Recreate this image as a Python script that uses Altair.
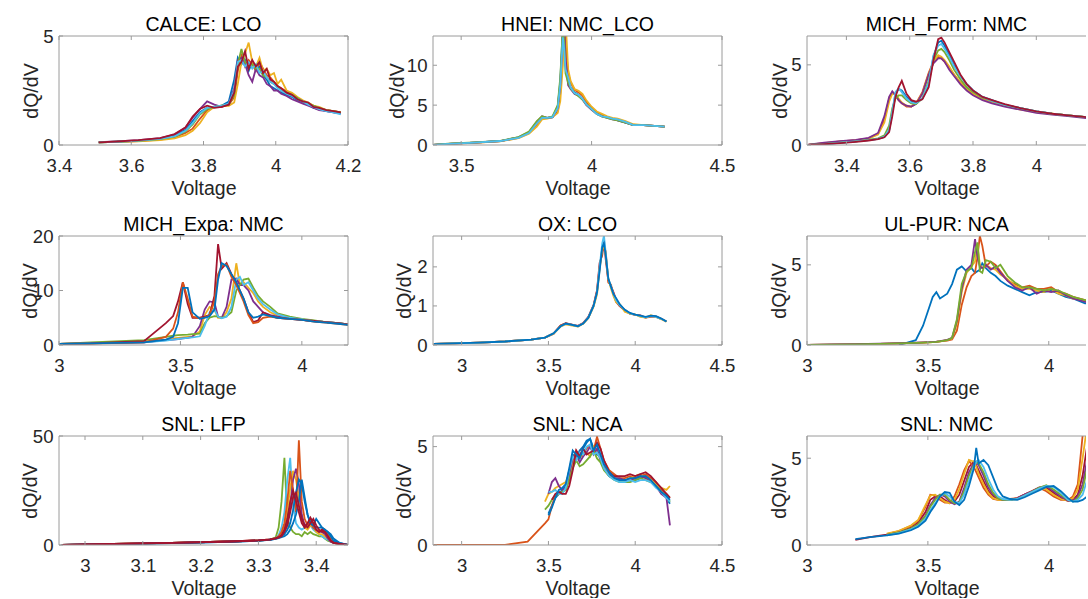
import altair as alt
import pandas as pd

BLUE = "#0072BD"; ORANGE = "#D95319"; YELLOW = "#EDB120"; PURPLE = "#7E2F8E"
GREEN = "#77AC30"; LIGHTBLUE = "#4DBEEE"; RED = "#A2142F"
FONT = "Liberation Sans"
FRAME = "#9a9a9a"
TXT = "#262626"
N = None

# ---------------- CALCE: LCO ----------------
CALCE_V = [3.51, 3.56, 3.62, 3.68, 3.72, 3.75, 3.77, 3.79, 3.81, 3.83, 3.85, 3.87, 3.885, 3.895, 3.905,
           3.915, 3.925, 3.935, 3.945, 3.955, 3.965, 3.975, 3.985, 3.995, 4.005, 4.015, 4.03, 4.045, 4.06,
           4.075, 4.09, 4.105, 4.12, 4.14, 4.16, 4.18]
CALCE_Q = [
    [0.12, 0.15, 0.2, 0.28, 0.42, 0.7, 1.1, 1.5, 1.7, 1.75, 1.8, 2.0, 3.0, 4.0, 3.7, 3.9, 3.4, 3.8, 3.5, 3.6,
     3.2, 3.0, 2.7, 2.6, 2.5, 2.4, 2.3, 2.2, 2.05, 1.95, 1.85, 1.7, 1.65, 1.55, 1.5, 1.45],
    [0.12, 0.14, 0.18, 0.25, 0.35, 0.55, 0.75, 1.2, 1.6, 1.75, 1.75, 1.85, 2.2, 3.4, 4.1, 3.6, 3.9, 3.7, 3.4, 3.8,
     3.5, 3.2, 3.1, 2.9, 2.7, 2.6, 2.45, 2.3, 2.15, 2.0, 1.9, 1.8, 1.7, 1.6, 1.55, 1.5],
    [0.12, 0.14, 0.17, 0.22, 0.3, 0.45, 0.65, 1.0, 1.5, 1.75, 1.8, 1.8, 1.95, 2.8, 3.8, 4.2, 4.7, 3.8, 3.6, 4.0,
     3.4, 3.5, 3.2, 3.3, 2.8, 3.0, 2.5, 2.4, 2.2, 2.05, 1.95, 1.8, 1.75, 1.6, 1.55, 1.5],
    [0.13, 0.16, 0.22, 0.32, 0.48, 0.8, 1.25, 1.65, 2.0, 1.85, 1.75, 1.9, 2.6, 3.9, 4.0, 3.7, 3.2, 2.9, 3.5, 3.2,
     3.1, 2.8, 2.7, 2.5, 2.5, 2.35, 2.25, 2.1, 2.0, 1.9, 1.8, 1.7, 1.6, 1.55, 1.5, 1.45],
    [0.12, 0.15, 0.19, 0.27, 0.38, 0.62, 0.95, 1.4, 1.65, 1.75, 1.8, 1.85, 2.3, 3.7, 4.4, 3.8, 3.6, 3.7, 3.5, 3.5,
     3.2, 3.1, 2.9, 2.8, 2.7, 2.5, 2.4, 2.3, 2.15, 2.0, 1.9, 1.8, 1.7, 1.6, 1.55, 1.5],
    [0.12, 0.15, 0.2, 0.28, 0.4, 0.65, 1.0, 1.45, 1.7, 1.75, 1.8, 1.9, 2.5, 3.8, 3.9, 3.6, 3.8, 3.5, 3.7, 3.3,
     3.4, 3.1, 2.9, 2.8, 2.6, 2.5, 2.35, 2.25, 2.1, 2.0, 1.85, 1.75, 1.65, 1.55, 1.5, 1.4],
    [0.12, 0.16, 0.22, 0.32, 0.5, 0.8, 1.3, 1.65, 1.8, 1.7, 1.75, 1.85, 2.4, 3.6, 3.8, 4.3, 3.5, 3.9, 3.6, 3.8,
     3.3, 3.5, 3.0, 2.9, 2.7, 2.6, 2.4, 2.3, 2.1, 2.0, 1.95, 1.75, 1.7, 1.6, 1.55, 1.5],
]
CALCE_C = [BLUE, ORANGE, YELLOW, PURPLE, GREEN, LIGHTBLUE, RED]

# ---------------- HNEI: NMC_LCO ----------------
HNEI_V = [3.39, 3.45, 3.55, 3.65, 3.72, 3.76, 3.79, 3.81, 3.83, 3.85, 3.87, 3.88, 3.89, 3.895, 3.90,
          3.91, 3.92, 3.935, 3.95, 3.965, 3.98, 4.0, 4.02, 4.04, 4.06, 4.08, 4.10, 4.13, 4.16, 4.2, 4.24, 4.28]
HNEI_Q = [
    [0.0, 0.15, 0.3, 0.5, 0.95, 1.6, 2.8, 3.5, 3.4, 3.45, 4.8, 8.0, 15, 14, 10, 8.0, 7.2, 6.6, 6.3, 5.8,
     5.2, 4.5, 4.0, 3.6, 3.5, 3.3, 3.1, 2.8, 2.5, 2.5, 2.4, 2.3],
    [0.0, 0.14, 0.28, 0.48, 0.9, 1.5, 2.5, 3.4, 3.4, 3.5, 4.2, 6.5, 12, 16, 13, 9.0, 7.8, 6.9, 6.6, 6.2,
     5.4, 4.7, 4.1, 3.8, 3.5, 3.3, 3.2, 2.9, 2.5, 2.5, 2.4, 2.3],
    [0.0, 0.13, 0.27, 0.46, 0.85, 1.4, 2.3, 3.2, 3.3, 3.5, 4.0, 5.5, 10, 15, 16, 9.5, 8.0, 7.0, 6.8, 6.4,
     5.6, 4.8, 4.2, 3.9, 3.6, 3.4, 3.3, 3.0, 2.6, 2.5, 2.4, 2.3],
    [0.0, 0.15, 0.3, 0.5, 0.95, 1.6, 2.9, 3.6, 3.4, 3.5, 4.6, 7.5, 14, 15, 11, 7.5, 7.0, 6.4, 6.2, 5.7,
     5.0, 4.4, 3.9, 3.6, 3.4, 3.2, 3.1, 2.8, 2.5, 2.5, 2.4, 2.3],
    [0.0, 0.16, 0.32, 0.52, 1.0, 1.7, 3.0, 3.6, 3.4, 3.6, 5.0, 8.5, 15, 13, 9, 7.8, 7.1, 6.5, 6.1, 5.7,
     5.1, 4.5, 3.9, 3.6, 3.4, 3.2, 3.1, 2.8, 2.5, 2.5, 2.4, 2.3],
    [0.0, 0.15, 0.3, 0.5, 0.9, 1.5, 2.7, 3.4, 3.4, 3.5, 4.6, 7.5, 13.5, 12, 9.5, 8.5, 7.2, 6.5, 6.3, 5.8,
     5.1, 4.5, 3.9, 3.6, 3.5, 3.3, 3.2, 2.9, 2.5, 2.5, 2.4, 2.3],
]
HNEI_C = [BLUE, ORANGE, YELLOW, PURPLE, GREEN, LIGHTBLUE]

# ---------------- MICH_Form: NMC ----------------
MFORM_V = [3.28, 3.33, 3.38, 3.43, 3.47, 3.50, 3.52, 3.535, 3.545, 3.555, 3.565, 3.575, 3.59, 3.605, 3.62,
           3.64, 3.66, 3.675, 3.69, 3.70, 3.71, 3.725, 3.74, 3.76, 3.78, 3.80, 3.83, 3.86, 3.90, 3.95,
           4.0, 4.05, 4.1, 4.15, 4.2]
MFORM_Q = [
    [0.0, 0.06, 0.14, 0.22, 0.3, 0.38, 0.5, 0.9, 2.0, 3.2, 3.5, 3.4, 3.0, 2.7, 2.6, 2.9, 3.8, 5.5, 6.4, 6.5,
     6.2, 5.6, 5.0, 4.3, 3.8, 3.4, 3.0, 2.8, 2.5, 2.3, 2.1, 1.95, 1.85, 1.75, 1.65],
    [0.02, 0.12, 0.22, 0.3, 0.42, 0.7, 1.6, 2.9, 3.3, 3.1, 2.8, 2.6, 2.4, 2.4, 2.6, 3.3, 4.5, 5.2, 5.5, 5.4,
     5.2, 4.8, 4.4, 3.9, 3.5, 3.2, 2.9, 2.7, 2.5, 2.25, 2.05, 1.95, 1.85, 1.75, 1.65],
    [0.0, 0.1, 0.2, 0.28, 0.4, 0.65, 1.4, 2.7, 3.2, 3.2, 2.9, 2.65, 2.45, 2.4, 2.6, 3.2, 4.4, 5.2, 5.6, 5.5,
     5.3, 4.9, 4.4, 3.9, 3.5, 3.2, 2.9, 2.7, 2.45, 2.2, 2.05, 1.95, 1.85, 1.75, 1.65],
    [0.02, 0.14, 0.24, 0.32, 0.45, 0.75, 1.8, 3.0, 3.35, 3.1, 2.8, 2.6, 2.45, 2.4, 2.55, 3.2, 4.4, 5.1, 5.4, 5.4,
     5.2, 4.7, 4.3, 3.8, 3.4, 3.1, 2.8, 2.6, 2.4, 2.2, 2.0, 1.9, 1.8, 1.7, 1.6],
    [0.0, 0.07, 0.15, 0.23, 0.32, 0.42, 0.6, 1.2, 2.3, 2.9, 3.1, 3.1, 2.8, 2.6, 2.55, 2.9, 4.0, 5.3, 5.9, 6.0,
     5.8, 5.3, 4.7, 4.1, 3.6, 3.3, 2.95, 2.75, 2.5, 2.3, 2.1, 1.95, 1.85, 1.75, 1.65],
    [0.0, 0.06, 0.14, 0.22, 0.3, 0.38, 0.52, 0.95, 2.1, 3.3, 3.55, 3.3, 2.9, 2.65, 2.6, 2.9, 3.9, 5.6, 6.2, 6.3,
     6.0, 5.5, 4.9, 4.3, 3.8, 3.4, 3.0, 2.75, 2.5, 2.3, 2.1, 1.95, 1.85, 1.75, 1.65],
    [0.0, 0.05, 0.12, 0.2, 0.28, 0.36, 0.48, 0.8, 1.8, 3.0, 3.6, 4.0, 3.2, 2.8, 2.7, 2.85, 3.6, 5.3, 6.6, 6.7,
     6.4, 5.8, 5.2, 4.4, 3.8, 3.4, 3.0, 2.8, 2.55, 2.3, 2.1, 1.95, 1.85, 1.75, 1.65],
]
MFORM_C = [BLUE, ORANGE, YELLOW, PURPLE, GREEN, LIGHTBLUE, RED]

# ---------------- MICH_Expa: NMC ----------------
MEXPA_V = [3.0, 3.13, 3.35, 3.44, 3.47, 3.49, 3.51, 3.53, 3.55, 3.58, 3.60, 3.62, 3.64, 3.655, 3.67,
           3.69, 3.71, 3.73, 3.745, 3.76, 3.78, 3.80, 3.82, 3.84, 3.87, 3.90, 3.95, 4.0, 4.05, 4.1, 4.15, 4.19]
MEXPA_Q = [
    [0.2, 0.3, 0.6, 1.0, 1.2, 1.3, 1.4, 1.5, 1.6, 2.5, 5.5, 7.0, 6.5, 5.0, 5.0, 6.0, 8.5, 15.0, 11.0, 11.5,
     10.5, 9.5, 8.0, 7.0, 6.0, 5.4, 5.0, 4.7, 4.4, 4.2, 4.0, 3.8],
    [0.2, 0.3, 0.5, 0.9, 1.0, 1.1, 1.2, 1.3, 1.5, 3.5, 6.5, 8.0, 7.8, 5.2, 5.0, 7.0, 12.0, 12.2, 11.0, 11.0,
     10.0, 8.0, 7.0, 6.0, 5.5, 5.2, 4.9, 4.6, 4.4, 4.2, 4.0, 3.8],
    [0.2, 0.5, 0.9, 1.5, 1.7, 1.8, 1.85, 1.9, 2.0, 2.1, 4.0, 5.0, 5.3, 5.2, 5.0, 5.3, 6.0, 10.0, 11.0, 12.0,
     12.2, 10.5, 9.0, 8.0, 7.0, 5.8, 5.2, 4.8, 4.5, 4.2, 4.0, 3.8],
    [0.2, 0.3, 0.5, 0.8, 1.0, 1.1, 1.2, 1.3, 1.4, 1.6, 3.5, 6.0, 6.5, 5.2, 4.9, 5.2, 7.0, 12.0, 12.5, 11.0,
     11.5, 10.0, 8.5, 7.5, 6.5, 5.6, 5.0, 4.7, 4.4, 4.2, 4.0, 3.8],
    [0.2, 0.3, 0.7, 4.0, 5.3, 8.0, 11.5, 7.5, 5.0, 5.0, 5.2, 5.5, 9.0, 18.5, 14.0, 15.0, 13.0, 11.5, 10.0, 8.5,
     6.0, 4.2, 4.5, 6.0, 5.4, 5.0, 4.8, 4.6, 4.4, 4.2, 4.0, 3.8],
    [0.2, 0.25, 0.5, 1.5, 3.0, 6.0, 11.5, 8.5, 5.2, 4.9, 5.0, 5.5, 8.0, 13.0, 14.5, 14.8, 12.5, 11.0, 9.5, 8.0,
     5.5, 4.0, 4.2, 5.0, 5.2, 5.0, 4.8, 4.6, 4.3, 4.1, 3.9, 3.7],
    [0.2, 0.3, 0.5, 1.0, 1.5, 4.0, 10.5, 10.5, 6.0, 4.8, 5.0, 5.3, 6.5, 12.0, 15.0, 14.5, 13.0, 11.5, 10.0, 8.5,
     6.0, 5.0, 5.2, 5.6, 5.3, 5.0, 4.8, 4.6, 4.3, 4.1, 3.9, 3.7],
]
MEXPA_C = [YELLOW, PURPLE, GREEN, LIGHTBLUE, RED, ORANGE, BLUE]

# ---------------- OX: LCO ----------------
OX_V = [2.84, 2.95, 3.1, 3.25, 3.4, 3.48, 3.53, 3.57, 3.6, 3.63, 3.67, 3.7, 3.73, 3.76, 3.78, 3.795, 3.81,
        3.82, 3.83, 3.845, 3.86, 3.875, 3.89, 3.91, 3.94, 3.97, 4.0, 4.03, 4.06, 4.09, 4.12, 4.15, 4.18]
OX_Q = [
    [0.03, 0.04, 0.06, 0.09, 0.14, 0.19, 0.29, 0.5, 0.56, 0.53, 0.49, 0.56, 0.72, 1.02, 1.4, 2.1, 2.3, 2.7,
     2.2, 1.65, 1.5, 1.35, 1.15, 1.0, 0.88, 0.8, 0.77, 0.76, 0.7, 0.74, 0.72, 0.67, 0.6],
    [0.03, 0.04, 0.06, 0.09, 0.14, 0.19, 0.3, 0.5, 0.55, 0.52, 0.48, 0.55, 0.7, 1.0, 1.38, 2.0, 2.4, 2.5,
     2.4, 1.6, 1.55, 1.3, 1.1, 1.0, 0.9, 0.8, 0.78, 0.74, 0.7, 0.72, 0.73, 0.67, 0.6],
    [0.03, 0.04, 0.06, 0.09, 0.14, 0.19, 0.29, 0.47, 0.53, 0.5, 0.47, 0.54, 0.69, 0.98, 1.3, 1.95, 2.45, 2.55,
     2.3, 1.7, 1.45, 1.25, 1.1, 1.05, 0.85, 0.8, 0.78, 0.72, 0.7, 0.76, 0.72, 0.66, 0.6],
    [0.03, 0.04, 0.06, 0.09, 0.14, 0.19, 0.3, 0.48, 0.54, 0.52, 0.48, 0.55, 0.7, 1.0, 1.35, 2.0, 2.6, 2.8,
     2.35, 1.7, 1.5, 1.3, 1.15, 1.02, 0.9, 0.81, 0.78, 0.74, 0.71, 0.74, 0.72, 0.67, 0.6],
    [0.03, 0.04, 0.06, 0.09, 0.14, 0.19, 0.3, 0.48, 0.55, 0.52, 0.48, 0.55, 0.7, 1.0, 1.35, 1.9, 2.5, 2.6,
     2.3, 1.7, 1.5, 1.3, 1.2, 1.05, 0.9, 0.82, 0.78, 0.75, 0.72, 0.75, 0.74, 0.68, 0.6],
]
OX_C = [RED, ORANGE, YELLOW, LIGHTBLUE, BLUE]

# ---------------- UL-PUR: NCA ----------------
ULPUR_V = [3.0, 3.1, 3.2, 3.3, 3.38, 3.45, 3.48, 3.52, 3.535, 3.55, 3.58, 3.60, 3.62, 3.64, 3.66, 3.68,
           3.695, 3.705, 3.715, 3.725, 3.74, 3.76, 3.78, 3.80, 3.83, 3.86, 3.89, 3.92, 3.95, 3.98, 4.01,
           4.04, 4.07, 4.1, 4.15, 4.2]
ULPUR_Q = [
    [N, N, N, N, 0.0, 0.3, 1.2, 3.0, 3.3, 2.9, 3.2, 3.8, 4.7, 4.9, 4.6, 4.8, 4.5, 4.6, 4.7, 5.1,
     4.8, 4.5, 4.3, 4.0, 3.7, 3.5, 3.3, 3.1, 3.3, 3.3, 3.4, 3.2, 3.0, 2.9, 2.6, 2.5],
    [0.0, 0.02, 0.04, 0.07, 0.1, 0.13, 0.15, 0.18, 0.2, 0.22, 0.28, 0.35, 0.9, 2.5, 3.6, 4.3, 4.5, 5.5, 6.8, 6.2,
     4.9, 5.2, 5.0, 4.6, 4.0, 3.8, 3.6, 3.7, 3.5, 3.5, 3.6, 3.3, 3.2, 3.0, 2.8, 2.6],
    [0.0, 0.02, 0.04, 0.07, 0.1, 0.13, 0.15, 0.18, 0.2, 0.23, 0.3, 0.4, 1.3, 3.3, 4.5, 4.9, 5.2, 6.3, 5.0, 4.8,
     5.0, 4.8, 4.7, 4.4, 4.1, 3.7, 3.5, 3.5, 3.4, 3.3, 3.5, 3.2, 3.1, 2.9, 2.8, 2.6],
    [0.0, 0.03, 0.05, 0.08, 0.11, 0.14, 0.16, 0.19, 0.21, 0.24, 0.32, 0.45, 1.5, 3.5, 4.7, 5.0, 6.6, 5.5, 4.9, 4.8,
     5.0, 4.7, 4.9, 4.5, 4.0, 3.6, 3.4, 3.6, 3.2, 3.4, 3.3, 3.4, 3.1, 2.9, 2.7, 2.5],
    [0.0, 0.02, 0.04, 0.07, 0.1, 0.13, 0.15, 0.18, 0.2, 0.23, 0.3, 0.45, 1.6, 3.8, 4.6, 4.8, 5.8, 6.4, 4.6, 4.5,
     5.3, 5.2, 4.8, 5.0, 4.3, 3.9, 3.6, 3.6, 3.5, 3.4, 3.5, 3.4, 3.2, 3.0, 2.8, 2.6],
]
ULPUR_C = [BLUE, ORANGE, YELLOW, PURPLE, GREEN]

# ---------------- SNL: LFP ----------------
LFP_V = [2.96, 3.05, 3.15, 3.25, 3.30, 3.32, 3.33, 3.335, 3.34, 3.345, 3.35, 3.355, 3.36, 3.365, 3.37,
         3.375, 3.38, 3.385, 3.39, 3.395, 3.40, 3.405, 3.41, 3.415, 3.42, 3.425, 3.43, 3.44, 3.455]
LFP_Q = [
    [0.1, 0.5, 1.0, 1.6, 2.0, 2.5, 3.5, 8, 20, 40, 12, 8, 6, 5, 5, 4, 6, 5, 6, 5, 4.5, 4, 4, 3, 2, 1.5, 1, 0.5, 0],
    [0.1, 0.5, 1.0, 1.6, 2.0, 2.5, 3.2, 4.5, 8, 15, 30, 40, 18, 10, 8, 7, 8, 10, 9, 7, 6, 5, 4, 3, 2.5, 2, 1, 0.5, 0],
    [0.1, 0.5, 1.0, 1.6, 2.0, 2.5, 3.0, 3.6, 5, 9, 16, 26, 34, 30, 22, 12, 8, 7, 9, 8, 6, 5, 5, 4, 3, 2, 1, 0.5, 0],
    [0.1, 0.5, 1.0, 1.6, 2.0, 2.5, 3.0, 3.5, 4, 6, 10, 18, 30, 35, 28, 14, 9, 10, 11, 8, 7, 6, 6, 5, 3, 1.5, 1, 0.5, 0],
    [0.1, 0.5, 1.0, 1.6, 2.1, 2.6, 3.2, 4, 6, 10, 20, 34, 25, 15, 48, 20, 12, 9, 12, 8, 7, 6, 7, 7, 5, 3, 1.5, 0.5, 0],
    [0.1, 0.4, 0.9, 1.5, 2.0, 2.4, 2.8, 3.2, 3.6, 4, 5, 7, 10, 14, 20, 30, 22, 14, 10, 9, 8, 8, 8, 7, 6, 4, 2, 1, 0],
    [0.1, 0.4, 0.9, 1.5, 2.0, 2.4, 2.9, 3.4, 4, 5, 7, 10, 16, 24, 30, 28, 20, 14, 10, 9, 12, 10, 8, 7, 6, 5, 3, 1, 0],
    [0.1, 0.5, 1.0, 1.6, 2.1, 2.6, 3.0, 3.5, 4.5, 7, 12, 20, 25, 20, 15, 10, 8, 10, 12.5, 10, 7, 6, 7, 6, 4, 2, 1, 0.5, 0],
    [0.1, 0.5, 1.0, 1.6, 2.1, 2.5, 3.0, 3.5, 4, 6, 9, 15, 22, 24, 18, 12, 9, 8, 10, 12, 9, 7, 6, 6, 4, 2, 1, 0.5, 0],
]
LFP_C = [GREEN, LIGHTBLUE, YELLOW, PURPLE, ORANGE, BLUE, BLUE, RED, RED]

# ---------------- SNL: NCA ----------------
NCA_V = [2.84, 3.0, 3.25, 3.38, 3.48, 3.5, 3.52, 3.54, 3.56, 3.58, 3.6, 3.62, 3.64, 3.66, 3.68, 3.70, 3.72,
         3.74, 3.76, 3.78, 3.80, 3.82, 3.85, 3.88, 3.91, 3.94, 3.97, 4.0, 4.03, 4.06, 4.09, 4.12, 4.15, 4.18, 4.2]
NCA_Q = [
    [N, N, N, N, N, 1.6, 2.0, 2.4, 2.6, 2.8, 3.0, 3.8, 4.6, 4.4, 4.8, 5.0, 5.3, 5.4, 4.9, 4.6,
     4.5, 4.0, 3.6, 3.4, 3.3, 3.3, 3.3, 3.3, 3.4, 3.5, 3.3, 3.0, 2.7, 2.4, 2.1],
    [0, 0, 0.01, 0.17, 1.1, 1.3, 2.0, 2.5, 2.6, 2.7, 2.8, 3.5, 4.3, 4.8, 4.5, 4.6, 4.9, 5.1, 4.8, 5.5,
     4.9, 4.3, 3.8, 3.6, 3.4, 3.4, 3.5, 3.4, 3.5, 3.6, 3.4, 3.2, 2.8, 2.6, 2.4],
    [N, N, N, N, 2.2, 2.6, 2.7, 2.9, 3.0, 3.1, 3.2, 3.6, 4.2, 4.5, 4.4, 4.6, 4.7, 4.5, 5.0, 4.7,
     4.4, 4.0, 3.7, 3.5, 3.4, 3.3, 3.4, 3.5, 3.6, 3.4, 3.3, 3.1, 2.9, 2.8, 3.0],
    [N, N, N, N, N, 2.6, 3.2, 3.4, 3.0, 2.8, 2.9, 3.6, 4.4, 4.6, 4.2, 4.5, 4.7, 5.0, 4.6, 4.9,
     4.3, 3.9, 3.5, 3.4, 3.4, 3.3, 3.3, 3.4, 3.5, 3.4, 3.2, 3.0, 2.6, 2.4, 1.0],
    [N, N, N, N, 1.8, 2.0, 2.3, 2.5, 2.6, 2.7, 2.8, 3.3, 3.9, 4.3, 4.0, 4.1, 4.3, 4.5, 4.8, 4.4,
     4.2, 3.8, 3.5, 3.3, 3.2, 3.2, 3.2, 3.3, 3.4, 3.3, 3.2, 3.0, 2.7, 2.5, 2.2],
    [N, N, N, N, N, 2.7, 2.7, 2.8, 2.6, 2.6, 2.9, 3.8, 4.5, 4.3, 4.7, 4.6, 5.0, 5.1, 4.6, 4.7,
     4.4, 3.9, 3.5, 3.3, 3.2, 3.2, 3.3, 3.2, 3.3, 3.3, 3.2, 2.9, 2.7, 2.4, 2.2],
    [N, N, N, N, N, N, 2.3, 2.6, 2.7, 2.6, 2.6, 3.0, 3.8, 4.8, 4.5, 4.9, 4.6, 4.7, 4.8, 5.2,
     4.9, 4.3, 3.7, 3.5, 3.5, 3.5, 3.6, 3.5, 3.6, 3.7, 3.5, 3.2, 2.9, 2.6, 2.4],
    [N, N, N, N, N, 1.5, 1.9, 2.4, 2.8, 2.9, 3.1, 3.9, 4.8, 4.6, 4.4, 4.9, 5.2, 5.4, 4.8, 5.1,
     4.6, 4.1, 3.7, 3.4, 3.3, 3.3, 3.4, 3.4, 3.5, 3.5, 3.3, 3.0, 2.7, 2.5, 2.3],
]
NCA_C = [BLUE, ORANGE, YELLOW, PURPLE, GREEN, LIGHTBLUE, RED, BLUE]

# ---------------- SNL: NMC ----------------
NMC_V = [3.2, 3.26, 3.33, 3.38, 3.43, 3.46, 3.49, 3.51, 3.53, 3.55, 3.57, 3.59, 3.61, 3.63, 3.65, 3.67,
         3.69, 3.70, 3.71, 3.73, 3.75, 3.77, 3.79, 3.81, 3.84, 3.87, 3.90, 3.93, 3.96, 3.99, 4.02, 4.05,
         4.08, 4.10, 4.12, 4.14, 4.16, 4.18, 4.2]
NMC_Q = [
    [0.3, 0.45, 0.6, 0.75, 1.0, 1.3, 1.9, 2.6, 2.8, 2.8, 2.6, 2.4, 2.5, 2.9, 3.7, 4.5, 4.8, 4.6, 4.3, 3.7,
     3.1, 2.8, 2.65, 2.6, 2.6, 2.7, 2.9, 3.1, 3.3, 3.3, 3.0, 2.7, 2.55, 2.6, 2.9, 4.0, 5.8, 7, 7],
    [N, N, 0.63, 0.8, 1.1, 1.4, 2.2, 2.9, 2.85, 2.6, 2.45, 2.45, 2.8, 3.5, 4.3, 4.85, 4.5, 4.2, 3.9, 3.3,
     2.9, 2.65, 2.6, 2.6, 2.65, 2.7, 2.9, 3.1, 3.3, 3.1, 2.8, 2.6, 2.6, 2.8, 3.5, 6.3, 7, 7, 7],
    [N, N, 0.65, 0.82, 1.12, 1.45, 2.3, 2.85, 2.9, 2.7, 2.5, 2.4, 2.6, 3.2, 4.1, 4.9, 4.8, 4.5, 4.1, 3.5,
     3.0, 2.7, 2.6, 2.6, 2.6, 2.7, 2.85, 3.1, 3.3, 3.2, 2.9, 2.65, 2.55, 2.7, 3.2, 5.0, 7, 7, 7],
    [N, N, 0.58, 0.72, 0.95, 1.2, 1.7, 2.3, 2.7, 2.9, 2.8, 2.5, 2.35, 2.5, 3.3, 4.2, 4.7, 4.8, 4.6, 4.0,
     3.3, 2.9, 2.7, 2.6, 2.6, 2.7, 2.9, 3.1, 3.3, 3.4, 3.1, 2.8, 2.55, 2.55, 2.8, 3.5, 5.0, 6.5, 7],
    [N, N, 0.58, 0.72, 0.95, 1.2, 1.65, 2.2, 2.6, 2.9, 2.9, 2.6, 2.4, 2.45, 3.1, 4.0, 4.6, 4.8, 4.7, 4.2,
     3.5, 3.0, 2.7, 2.6, 2.6, 2.65, 2.85, 3.05, 3.3, 3.45, 3.2, 2.9, 2.6, 2.5, 2.7, 3.2, 4.5, 6.0, 7],
    [N, N, 0.55, 0.68, 0.9, 1.1, 1.5, 2.0, 2.4, 2.8, 3.0, 2.8, 2.5, 2.4, 2.9, 3.7, 4.5, 4.8, 4.9, 4.5,
     3.8, 3.2, 2.8, 2.65, 2.6, 2.65, 2.85, 3.05, 3.25, 3.4, 3.35, 3.0, 2.6, 2.5, 2.6, 2.9, 3.8, 5.0, 6.0],
    [0.34, 0.45, 0.55, 0.66, 0.85, 1.05, 1.4, 1.9, 2.3, 2.8, 3.05, 3.0, 2.5, 2.3, 2.6, 3.4, 4.4, 5.6, 4.7, 4.9,
     4.6, 3.9, 3.2, 2.8, 2.65, 2.6, 2.75, 2.95, 3.15, 3.35, 3.4, 3.1, 2.7, 2.5, 2.5, 2.6, 2.8, 3.5, 5.0],
]
NMC_C = [RED, ORANGE, YELLOW, PURPLE, GREEN, LIGHTBLUE, BLUE]

W = 289
W3 = 279
H = 109
TICK = 4


def panel(title, V, curves, colors, xdom, ydom, xticks, yticks, ytitle_x, width, right_edge=True):
    rows = []
    for i, (ys, col) in enumerate(zip(curves, colors)):
        for v, q in zip(V, ys):
            if q is not None:
                rows.append({"V": v, "Q": q, "key": f"c{i:02d}", "col": col})
    df = pd.DataFrame(rows)
    xs = alt.Scale(domain=xdom, nice=False, zero=False)
    ysc = alt.Scale(domain=ydom, nice=False, zero=False)
    common = dict(domain=False, ticks=False, grid=False, labelFlush=False, labelOverlap=False,
                  labelFont=FONT, labelFontSize=18.6, labelColor=TXT,
                  titleFont=FONT, titleFontSize=19.5, titleFontWeight="normal", titleColor=TXT,
                  titleBaseline="alphabetic", labelExpr="'' + datum.value")
    xaxis = alt.Axis(values=xticks, title="Voltage", labelPadding=11, titleY=49, **common)
    yaxis = alt.Axis(values=yticks, title="dQ/dV", labelPadding=6, titleX=ytitle_x, **common)
    lines = alt.Chart(df).mark_line(clip=True, strokeWidth=1.8).encode(
        x=alt.X("V:Q", scale=xs, axis=xaxis),
        y=alt.Y("Q:Q", scale=ysc, axis=yaxis),
        color=alt.Color("col:N", scale=None),
        detail="key:N",
    )
    one = pd.DataFrame({"a": [0]})
    rule = dict(color=FRAME, strokeWidth=1)
    layers = [lines,
              alt.Chart(one).mark_rule(**rule).encode(x=alt.value(0), x2=alt.value(width), y=alt.value(0)),
              alt.Chart(one).mark_rule(**rule).encode(x=alt.value(0), x2=alt.value(width), y=alt.value(H)),
              alt.Chart(one).mark_rule(**rule).encode(x=alt.value(0), y=alt.value(0), y2=alt.value(H)),
              alt.Chart(pd.DataFrame({"title": [title]})).mark_text(
                  font=FONT, fontSize=19.5, color="#000000", align="center", baseline="alphabetic"
              ).encode(text="title:N", x=alt.value(width / 2), y=alt.value(-5))]
    xt = pd.DataFrame({"V": xticks})
    yt = pd.DataFrame({"Q": yticks})
    layers.append(alt.Chart(xt).mark_rule(**rule).encode(
        x=alt.X("V:Q", scale=xs, axis=xaxis), y=alt.value(H), y2=alt.value(H - TICK)))
    layers.append(alt.Chart(xt).mark_rule(**rule).encode(
        x=alt.X("V:Q", scale=xs, axis=xaxis), y=alt.value(0), y2=alt.value(TICK)))
    layers.append(alt.Chart(yt).mark_rule(**rule).encode(
        y=alt.Y("Q:Q", scale=ysc, axis=yaxis), x=alt.value(0), x2=alt.value(TICK)))
    if right_edge:
        layers.append(alt.Chart(one).mark_rule(**rule).encode(
            x=alt.value(width), y=alt.value(0), y2=alt.value(H)))
        layers.append(alt.Chart(yt).mark_rule(**rule).encode(
            y=alt.Y("Q:Q", scale=ysc, axis=yaxis), x=alt.value(width - TICK), x2=alt.value(width)))
    return alt.layer(*layers).properties(width=width, height=H)


p1 = panel("CALCE: LCO", CALCE_V, CALCE_Q, CALCE_C, [3.4, 4.2], [0, 5], [3.4, 3.6, 3.8, 4.0, 4.2], [0, 5], -21.3, W)
p2 = panel("HNEI: NMC_LCO", HNEI_V, HNEI_Q, HNEI_C, [3.392, 4.5], [0, 13.67], [3.5, 4.0, 4.5], [0, 5, 10], -30, W)
p3 = panel("MICH_Form: NMC", MFORM_V, MFORM_Q, MFORM_C, [3.2755, 4.157], [0, 6.8], [3.4, 3.6, 3.8, 4.0], [0, 5], -21, W3, False)
p4 = panel("MICH_Expa: NMC", MEXPA_V, MEXPA_Q, MEXPA_C, [3.0, 4.19], [0, 20], [3.0, 3.5, 4.0], [0, 10, 20], -23, W)
p5 = panel("OX: LCO", OX_V, OX_Q, OX_C, [2.835, 4.5], [0, 2.79], [3.0, 3.5, 4.0, 4.5], [0, 1, 2], -22.3, W)
p6 = panel("UL-PUR: NCA", ULPUR_V, ULPUR_Q, ULPUR_C, [3.0, 4.154], [0, 6.8], [3.0, 3.5, 4.0], [0, 5], -21.5, W3, False)
p7 = panel("SNL: LFP", LFP_V, LFP_Q, LFP_C, [2.955, 3.455], [0, 50], [3.0, 3.1, 3.2, 3.3, 3.4], [0, 50], -23, W)
p8 = panel("SNL: NCA", NCA_V, NCA_Q, NCA_C, [2.835, 4.5], [0, 5.54], [3.0, 3.5, 4.0, 4.5], [0, 5], -22.3, W)
p9 = panel("SNL: NMC", NMC_V, NMC_Q, NMC_C, [3.0, 4.154], [0, 6.28], [3.0, 3.5, 4.0], [0, 5], -21.5, W3, False)

chart = alt.concat(p1, p2, p3, p4, p5, p6, p7, p8, p9, columns=3,
                   spacing={"row": 91, "column": 85}, bounds="flush").properties(
    padding={"left": 20, "top": 15, "right": 0, "bottom": 0}
).configure_view(strokeWidth=0)

chart.save("out.html", embed_options={"renderer": "svg", "actions": False})
